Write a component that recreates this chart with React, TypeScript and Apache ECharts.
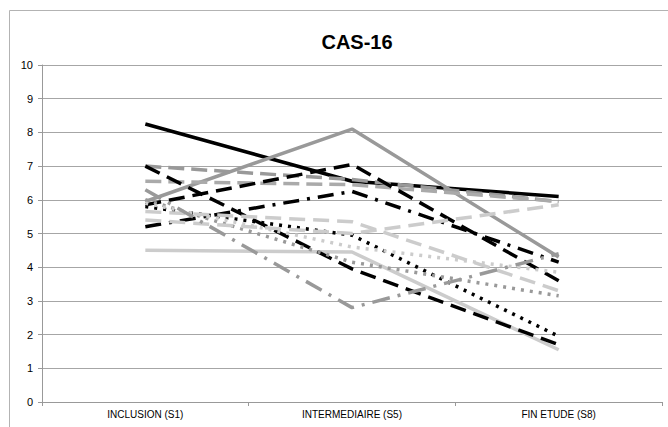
import React, { useEffect, useRef } from "react";
import * as echarts from "echarts";

const categories = ["INCLUSION (S1)", "INTERMEDIAIRE (S5)", "FIN ETUDE (S8)"];
const title = "CAS-16";

const blackSolid = [8.25, 6.55, 6.1];
const graySolid = [5.95, 8.1, 4.3];
const lightSolid = [4.5, 4.45, 1.55];
const grayDashA = [7.0, 6.6, 5.95];
const grayDashB = [6.55, 6.45, 5.95];
const blackDashUp = [5.85, 7.05, 3.6];
const blackDashDot = [5.2, 6.25, 4.15];
const blackDashDown = [7.0, 3.95, 1.7];
const blackDots = [5.8, 4.95, 1.95];
const grayDots = [6.0, 4.15, 3.15];
const lightDots = [5.9, 4.6, 3.85];
const lightDashA = [5.65, 5.35, 3.3];
const lightDashB = [5.4, 5.0, 5.85];
const grayLongDashDot = [6.3, 2.8, 4.4];

type Style = { color: string; type: any; width: number };

const seriesDefs: { name: string; data: number[]; style: Style }[] = [
  { name: "s1", data: blackSolid, style: { color: "#000000", type: "solid", width: 3.5 } },
  { name: "s2", data: graySolid, style: { color: "#999999", type: "solid", width: 3.5 } },
  { name: "s3", data: lightSolid, style: { color: "#cccccc", type: "solid", width: 3.5 } },
  { name: "s4", data: grayDashA, style: { color: "#999999", type: [16, 7], width: 3.5 } },
  { name: "s5", data: grayDashB, style: { color: "#aaaaaa", type: [16, 7], width: 3.5 } },
  { name: "s6", data: blackDashUp, style: { color: "#000000", type: [16, 8], width: 3.5 } },
  { name: "s7", data: blackDashDot, style: { color: "#000000", type: [16, 8, 3, 8], width: 3.5 } },
  { name: "s8", data: blackDashDown, style: { color: "#000000", type: [16, 8], width: 3.5 } },
  { name: "s9", data: blackDots, style: { color: "#000000", type: [3, 6], width: 3.5 } },
  { name: "s10", data: grayDots, style: { color: "#999999", type: [3, 6], width: 3.5 } },
  { name: "s11", data: lightDots, style: { color: "#cccccc", type: [3, 6], width: 3.5 } },
  { name: "s12", data: lightDashA, style: { color: "#cccccc", type: [16, 8], width: 3.5 } },
  { name: "s13", data: lightDashB, style: { color: "#cccccc", type: [16, 8], width: 3.5 } },
  { name: "s14", data: grayLongDashDot, style: { color: "#999999", type: [18, 8, 3, 8], width: 3.5 } },
];

export default function App() {
  const ref = useRef<HTMLDivElement>(null);
  useEffect(() => {
    document.body.style.margin = "0";
    const chart = echarts.init(ref.current!, null, { renderer: "svg" });
    chart.setOption({
      animation: false,
      backgroundColor: "#ffffff",
      title: {
        text: title,
        left: 352,
        top: 27,
        textAlign: "center",
        textStyle: { fontFamily: "Liberation Sans", fontSize: 20, fontWeight: "bold", color: "#000" },
      },
      graphic: [
        {
          type: "rect",
          shape: { x: 9.5, y: 10.5, width: 680, height: 440 },
          style: { fill: "none", stroke: "#b3b3b3", lineWidth: 1 },
          silent: true,
        },
      ],
      grid: { left: 42, right: 6, top: 65, bottom: 25 },
      xAxis: {
        type: "category",
        data: categories,
        axisLine: { lineStyle: { color: "#999", width: 1 } },
        axisTick: { show: true, alignWithLabel: false, length: 4, lineStyle: { color: "#999" } },
        axisLabel: { fontFamily: "Liberation Sans", fontSize: 10, color: "#000", margin: 7 },
      },
      yAxis: {
        type: "value",
        min: 0,
        max: 10,
        interval: 1,
        axisLine: { show: true, lineStyle: { color: "#999", width: 1 } },
        axisTick: { show: true, length: 4, lineStyle: { color: "#999" } },
        axisLabel: { fontFamily: "Liberation Sans", fontSize: 11, color: "#000", margin: 9 },
        splitLine: { lineStyle: { color: "#a6a6a6", width: 1 } },
      },
      series: seriesDefs.map((s) => ({
        name: s.name,
        type: "line",
        data: s.data,
        symbol: "none",
        lineStyle: { color: s.style.color, type: s.style.type, width: s.style.width, cap: "butt" },
      })),
    });
    return () => chart.dispose();
  }, []);
  return (
    <div
      ref={ref}
      style={{ position: "fixed", left: 0, top: 0, width: 668, height: 427 }}
    />
  );
}
